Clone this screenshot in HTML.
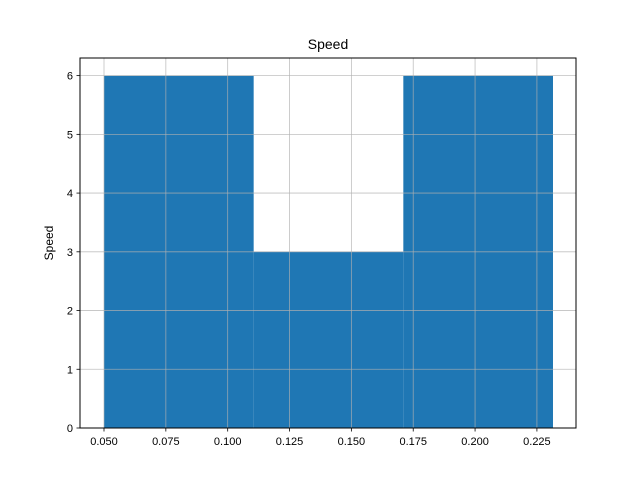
<!DOCTYPE html>
<html><head><meta charset="utf-8"><style>
body{margin:0;background:#fff;}
svg{display:block;font-family:"Liberation Sans","DejaVu Sans",sans-serif;}
</style></head><body>
<svg id="chart" width="640" height="480">
<rect width="640" height="480" fill="#fff"/>
<g id="bars"></g><g id="grid"></g><g id="ticks"></g>
<rect x="80" y="58" width="496" height="370" fill="none" stroke="#000" stroke-width="1"/>
<text x="328" y="49" text-anchor="middle" font-size="14">Speed</text>
<text x="53" y="243" text-anchor="middle" font-size="12" transform="rotate(-90 53 243)">Speed</text>
</svg>
<script>
const binEdges=[0.050,0.1105,0.171,0.2315];
const counts=[6,3,6];
const xTicks=[0.050,0.075,0.100,0.125,0.150,0.175,0.200,0.225];
const xTickLabels=["0.050","0.075","0.100","0.125","0.150","0.175","0.200","0.225"];
const yTicks=[0,1,2,3,4,5,6];
const X0=80,X1=576,Y0=428,Y1=58,xmin=0.0403,xmax=0.2408,ymin=0,ymax=6.3;
const sx=v=>X0+(v-xmin)/(xmax-xmin)*(X1-X0);
const sy=v=>Y0-(v-ymin)/(ymax-ymin)*(Y0-Y1);
const NS="http://www.w3.org/2000/svg";
function mk(t,a,p){const e=document.createElementNS(NS,t);for(const k in a)e.setAttribute(k,a[k]);p.appendChild(e);return e;}
const bars=document.getElementById('bars'),grid=document.getElementById('grid'),ticks=document.getElementById('ticks');
counts.forEach((c,i)=>{
 const r=mk('rect',{x:sx(binEdges[i]),y:sy(c),width:sx(binEdges[i+1])-sx(binEdges[i]),height:sy(0)-sy(c),fill:'#1f77b4'},bars);
 
 
});
xTicks.forEach((v,i)=>{
 const x=sx(v);
 const g=mk('line',{x1:x,x2:x,y1:Y1,y2:Y0,stroke:'#b0b0b0','stroke-width':0.8,'stroke-opacity':0.8},grid);
 
 
 mk('line',{x1:x,x2:x,y1:Y0,y2:Y0+3.5,stroke:'#000','stroke-width':0.8},ticks);
 const t=mk('text',{x:x,y:Y0+17,'text-anchor':'middle','font-size':11},ticks);
 t.textContent=xTickLabels[i];
 
 
});
yTicks.forEach(v=>{
 const y=sy(v);
 const g=mk('line',{x1:X0,x2:X1,y1:y,y2:y,stroke:'#b0b0b0','stroke-width':0.8,'stroke-opacity':0.8},grid);
 
 
 mk('line',{x1:X0-3.5,x2:X0,y1:y,y2:y,stroke:'#000','stroke-width':0.8},ticks);
 const t=mk('text',{x:X0-7,y:y+4,'text-anchor':'end','font-size':11},ticks);
 t.textContent=String(v);
 
 
});
</script>
</body></html>
